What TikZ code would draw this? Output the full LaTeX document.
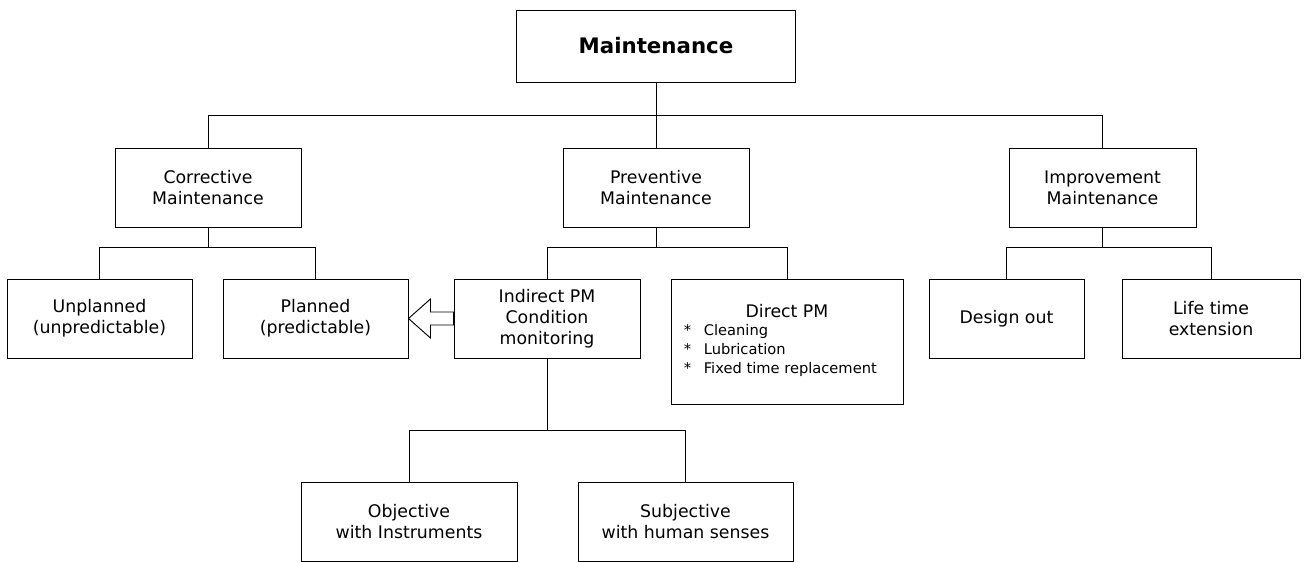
\documentclass[tikz,border=0pt]{standalone}
\usepackage{fontspec}
\setmainfont{DejaVu Sans}
\usetikzlibrary{calc}
\begin{document}
\begin{tikzpicture}[x=0.75pt, y=-0.75pt, line width=0.7pt,
  box/.style={draw, fill=white, align=center, inner sep=2pt,
    minimum height=59.25pt, font=\fontsize{13}{15.75}\selectfont}]
  \useasboundingbox (0,0) rectangle (1306,562);

  \node[box, minimum width=209.25pt, minimum height=54pt,
    font=\fontsize{16}{19}\selectfont\bfseries] (maint) at (656,46) {Maintenance};

  \node[box, minimum width=139.5pt] (corr) at (208,187.5) {Corrective\\Maintenance};
  \node[box, minimum width=139.5pt] (prev) at (656,187.5) {Preventive\\Maintenance};
  \node[box, minimum width=140.25pt] (impr) at (1102.5,187.5) {Improvement\\Maintenance};

  \node[box, minimum width=138.75pt] (unpl) at (99.5,318.5) {Unplanned\\(unpredictable)};
  \node[box, minimum width=138.75pt] (plan) at (315.5,318.5) {Planned\\(predictable)};
  \node[box, minimum width=139.5pt] (indir) at (547,318.5) {Indirect PM\\Condition\\monitoring};
  \node[box, minimum width=174pt, minimum height=93.75pt,
    font=\fontsize{13}{14}\selectfont] (direct) at (787,341.5)
    {Direct PM\\\hspace*{-10pt}{\fontsize{11}{14}\selectfont
      \begin{tabular}[t]{@{}l@{}}
        \makebox[15pt][l]{*}Cleaning\\
        \makebox[15pt][l]{*}Lubrication\\
        \makebox[15pt][l]{*}Fixed time replacement
      \end{tabular}}};
  \node[box, minimum width=116.25pt] (design) at (1006.5,318.5) {Design out};
  \node[box, minimum width=133.5pt] (life) at (1211,318.5) {Life time\\extension};

  \node[box, minimum width=162pt] (obj) at (409,521.5) {Objective\\with Instruments};
  \node[box, minimum width=161.25pt] (subj) at (685.5,521.5) {Subjective\\with human senses};

  % tree lines
  \draw (maint.south) -- ++(0,33) -| (corr.north);
  \draw (maint.south) -- (prev.north);
  \draw (maint.south) -- ++(0,33) -| (impr.north);

  \draw (corr.south) -- ++(0,20) -| (unpl.north);
  \draw (corr.south) -- ++(0,20) -| (plan.north);
  \draw (prev.south) -- ++(0,20) -| (indir.north);
  \draw (prev.south) -- ++(0,20) -| (direct.north);
  \draw (impr.south) -- ++(0,20) -| (design.north);
  \draw (impr.south) -- ++(0,20) -| (life.north);

  \draw (indir.south) -- ++(0,72) -| (obj.north);
  \draw (indir.south) -- ++(0,72) -| (subj.north);

  % hollow arrow
  \draw[fill=white] (plan.east) -- ++(22,-19.5) -- ++(0,13)
    -- ($(indir.west)+(0,-6.5)$) -- ($(indir.west)+(0,6.5)$)
    -- ($(plan.east)+(22,6.5)$) -- ++(0,13) -- cycle;
\end{tikzpicture}
\end{document}
